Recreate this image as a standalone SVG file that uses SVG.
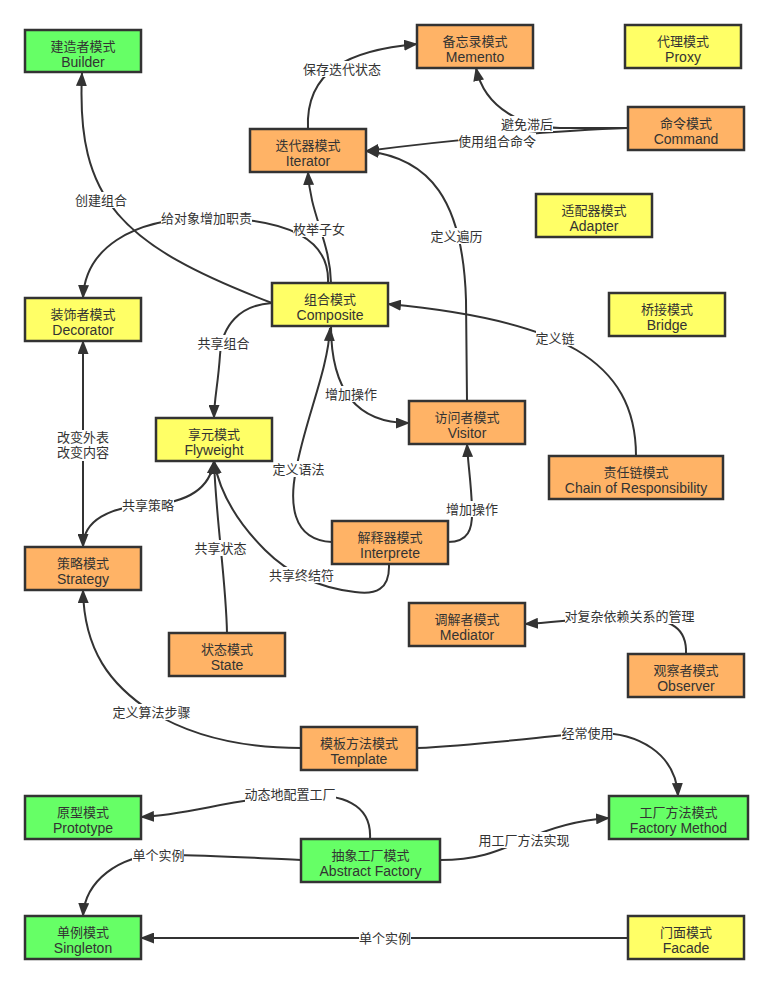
<svg xmlns="http://www.w3.org/2000/svg" width="773" height="984" viewBox="0 0 773 984">
<style>
.n rect{stroke:#333;stroke-width:2.5}
.g{fill:#66FF66}.o{fill:#FFB366}.y{fill:#FFFF66}
text{font-family:"Liberation Sans","Noto Sans CJK SC",sans-serif;font-size:13px;fill:#333;text-anchor:middle}
.n tspan{font-size:14px}
.e path{fill:none;stroke:#333;stroke-width:2;marker-end:url(#a)}
.lb{fill:#fff}
</style>
<defs>
<marker id="a" markerWidth="14" markerHeight="11" refX="13" refY="5.5" orient="auto-start-reverse" markerUnits="userSpaceOnUse"><path d="M0,0 L14,5.5 L0,11 Z" fill="#333"/></marker>
</defs>
<g id="edges" class="e">
<path d="M272,303 C120,245 76,200 82,73"/>
<path d="M328,283 C330,240 290,218 206,218 C130,218 85,250 83,298"/>
<path d="M331,283 C330,240 310,215 308,172"/>
<path d="M308,129 C305,70 350,50 417,44"/>
<path d="M628,128 L560,128 C525,127 485,110 476,68"/>
<path d="M628,128 C560,130 450,140 366,151"/>
<path d="M467,401 L466,300 C463,200 430,158 366,151"/>
<path d="M636,456 C636,360 560,320 388,304"/>
<path d="M331,326 C331,395 360,423 409,423"/>
<path d="M332,542 C290,540 290,500 296,470 C305,420 328,370 330,328"/>
<path d="M448,542 C468,542 473,530 472,508 C471,480 468,465 467,444"/>
<path d="M389,564 C390,590 375,595 355,592 C320,588 290,575 265,550 C240,525 220,495 214,461"/>
<path d="M227,633 C226,580 216,520 214,461"/>
<path d="M83,547 C83,520 110,507 148,505 C185,503 210,490 214,461"/>
<path d="M83,341 L83,547" style="marker-start:url(#a)"/>
<path d="M272,303 C240,305 222,325 220,355 C218,385 214,400 214,418"/>
<path d="M301,748 C240,748 190,735 152,712 C110,685 84,650 83,590"/>
<path d="M417,748 C480,745 540,737 587,733 C640,730 676,755 678,796"/>
<path d="M370,839 C372,805 345,792 290,795 C230,800 185,815 141,817"/>
<path d="M301,860 C250,858 200,854 158,855 C120,856 85,880 83,916"/>
<path d="M440,860 C480,860 500,850 524,840 C550,828 580,820 609,818"/>
<path d="M628,938 L141,938"/>
<path d="M686,654 C687,630 675,618 630,617 C590,617 560,622 525,624"/>
</g>
<g id="labels">
<rect class="lb" x="75" y="192" width="52" height="16"/><text x="101" y="204.5">创建组合</text>
<rect class="lb" x="161" y="210" width="91" height="16"/><text x="206.5" y="222.5">给对象增加职责</text>
<rect class="lb" x="293" y="221" width="52" height="16"/><text x="319" y="233.5">枚举子女</text>
<rect class="lb" x="303" y="61" width="78" height="16"/><text x="342" y="73.5">保存迭代状态</text>
<rect class="lb" x="501" y="116" width="52" height="16"/><text x="527" y="128.5">避免滞后</text>
<rect class="lb" x="458" y="133" width="78" height="16"/><text x="497" y="145.5">使用组合命令</text>
<rect class="lb" x="431" y="228" width="52" height="16"/><text x="456.5" y="240.5">定义遍历</text>
<rect class="lb" x="536" y="330" width="39" height="16"/><text x="555" y="342.5">定义链</text>
<rect class="lb" x="325" y="386" width="52" height="16"/><text x="351" y="398.5">增加操作</text>
<rect class="lb" x="273" y="461" width="52" height="16"/><text x="298.5" y="473.5">定义语法</text>
<rect class="lb" x="446" y="501" width="52" height="16"/><text x="472" y="513.5">增加操作</text>
<rect class="lb" x="269" y="567" width="65" height="16"/><text x="301.5" y="579.5">共享终结符</text>
<rect class="lb" x="195" y="540" width="52" height="16"/><text x="220.5" y="552.5">共享状态</text>
<rect class="lb" x="122" y="497" width="52" height="16"/><text x="148" y="509.5">共享策略</text>
<rect class="lb" x="57" y="430" width="52" height="31"/><text x="83" y="442">改变外表<tspan x="83" dy="15">改变内容</tspan></text>
<rect class="lb" x="197" y="335" width="52" height="16"/><text x="223.5" y="347.5">共享组合</text>
<rect class="lb" x="113" y="704" width="78" height="16"/><text x="151.5" y="716.5">定义算法步骤</text>
<rect class="lb" x="561" y="725" width="52" height="16"/><text x="587.5" y="737.5">经常使用</text>
<rect class="lb" x="245" y="786" width="91" height="16"/><text x="290" y="798.5">动态地配置工厂</text>
<rect class="lb" x="132" y="847" width="52" height="16"/><text x="158.5" y="859.5">单个实例</text>
<rect class="lb" x="479" y="832" width="91" height="16"/><text x="524" y="844.5">用工厂方法实现</text>
<rect class="lb" x="359" y="930" width="52" height="16"/><text x="385" y="942.5">单个实例</text>
<rect class="lb" x="565" y="608" width="130" height="16"/><text x="629.5" y="620.5">对复杂依赖关系的管理</text>
</g>
<g id="builder" class="n"><rect class="g" x="25" y="30" width="116" height="42"/><text x="83" y="51">建造者模式<tspan x="83" dy="15.6">Builder</tspan></text></g>
<g id="memento" class="n"><rect class="o" x="417" y="25" width="116" height="43"/><text x="475" y="46">备忘录模式<tspan x="475" dy="15.6">Memento</tspan></text></g>
<g id="proxy" class="n"><rect class="y" x="625" y="25" width="116" height="43"/><text x="683" y="46">代理模式<tspan x="683" dy="15.6">Proxy</tspan></text></g>
<g id="iterator" class="n"><rect class="o" x="250" y="129" width="116" height="43"/><text x="308" y="150">迭代器模式<tspan x="308" dy="15.6">Iterator</tspan></text></g>
<g id="command" class="n"><rect class="o" x="628" y="107" width="116" height="43"/><text x="686" y="128">命令模式<tspan x="686" dy="15.6">Command</tspan></text></g>
<g id="adapter" class="n"><rect class="y" x="536" y="194" width="116" height="43"/><text x="594" y="215">适配器模式<tspan x="594" dy="15.6">Adapter</tspan></text></g>
<g id="decorator" class="n"><rect class="y" x="25" y="298" width="116" height="43"/><text x="83" y="319">装饰者模式<tspan x="83" dy="15.6">Decorator</tspan></text></g>
<g id="composite" class="n"><rect class="y" x="272" y="283" width="116" height="43"/><text x="330" y="304">组合模式<tspan x="330" dy="15.6">Composite</tspan></text></g>
<g id="bridge" class="n"><rect class="y" x="609" y="293" width="116" height="43"/><text x="667" y="314">桥接模式<tspan x="667" dy="15.6">Bridge</tspan></text></g>
<g id="flyweight" class="n"><rect class="y" x="156" y="418" width="116" height="43"/><text x="214" y="439">享元模式<tspan x="214" dy="15.6">Flyweight</tspan></text></g>
<g id="visitor" class="n"><rect class="o" x="409" y="401" width="116" height="43"/><text x="467" y="422">访问者模式<tspan x="467" dy="15.6">Visitor</tspan></text></g>
<g id="chain" class="n"><rect class="o" x="549" y="456" width="174" height="43"/><text x="636" y="477">责任链模式<tspan x="636" dy="15.6">Chain of Responsibility</tspan></text></g>
<g id="interprete" class="n"><rect class="o" x="332" y="521" width="116" height="43"/><text x="390" y="542">解释器模式<tspan x="390" dy="15.6">Interprete</tspan></text></g>
<g id="strategy" class="n"><rect class="o" x="25" y="547" width="116" height="43"/><text x="83" y="568">策略模式<tspan x="83" dy="15.6">Strategy</tspan></text></g>
<g id="state" class="n"><rect class="o" x="169" y="633" width="116" height="43"/><text x="227" y="654">状态模式<tspan x="227" dy="15.6">State</tspan></text></g>
<g id="mediator" class="n"><rect class="o" x="409" y="603" width="116" height="43"/><text x="467" y="624">调解者模式<tspan x="467" dy="15.6">Mediator</tspan></text></g>
<g id="observer" class="n"><rect class="o" x="628" y="654" width="116" height="43"/><text x="686" y="675">观察者模式<tspan x="686" dy="15.6">Observer</tspan></text></g>
<g id="template" class="n"><rect class="o" x="301" y="727" width="116" height="43"/><text x="359" y="748">模板方法模式<tspan x="359" dy="15.6">Template</tspan></text></g>
<g id="prototype" class="n"><rect class="g" x="25" y="796" width="116" height="43"/><text x="83" y="817">原型模式<tspan x="83" dy="15.6">Prototype</tspan></text></g>
<g id="factorymethod" class="n"><rect class="g" x="609" y="796" width="139" height="43"/><text x="678.5" y="817">工厂方法模式<tspan x="678.5" dy="15.6">Factory Method</tspan></text></g>
<g id="abstractfactory" class="n"><rect class="g" x="301" y="839" width="139" height="43"/><text x="370.5" y="860">抽象工厂模式<tspan x="370.5" dy="15.6">Abstract Factory</tspan></text></g>
<g id="singleton" class="n"><rect class="g" x="25" y="916" width="116" height="43"/><text x="83" y="937">单例模式<tspan x="83" dy="15.6">Singleton</tspan></text></g>
<g id="facade" class="n"><rect class="y" x="628" y="916" width="116" height="43"/><text x="686" y="937">门面模式<tspan x="686" dy="15.6">Facade</tspan></text></g>
</svg>
